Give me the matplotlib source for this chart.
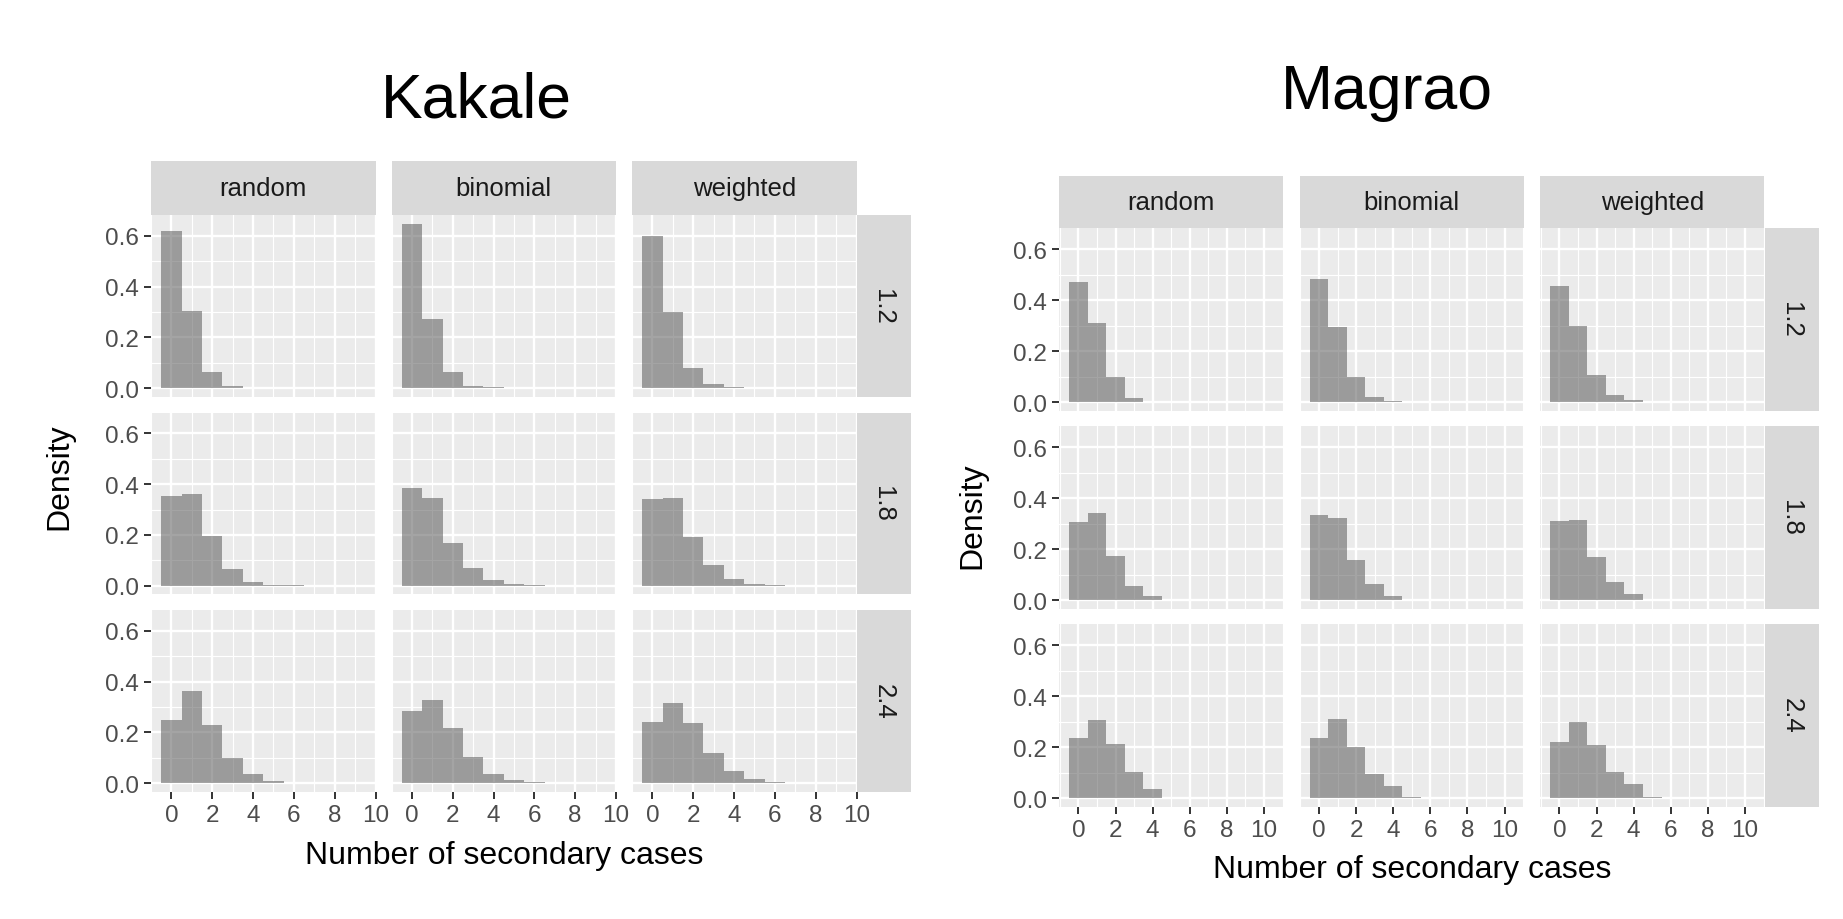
import matplotlib
matplotlib.use("Agg")
import matplotlib.pyplot as plt
import numpy as np

plt.rcParams["font.family"] = ["Liberation Sans", "DejaVu Sans"]

W, H = 1843, 920

models = ["random", "binomial", "weighted"]
r_labels = ["1.2", "1.8", "2.4"]
y_ticks = [0.0, 0.2, 0.4, 0.6]
x_ticks = [0, 2, 4, 6, 8, 10]
y_top = 0.65  # shared upper limit of the density axis

# density per number of secondary cases (0, 1, 2, ...)
kakale_12_random = [0.620, 0.304, 0.065, 0.007, 0.001, 0.0005, 0, 0, 0, 0]
kakale_12_binomial = [0.649, 0.273, 0.065, 0.009, 0.003, 0.001, 0, 0, 0, 0]
kakale_12_weighted = [0.600, 0.301, 0.078, 0.017, 0.003, 0.001, 0, 0, 0, 0]
kakale_18_random = [0.355, 0.363, 0.195, 0.067, 0.013, 0.003, 0.001, 0, 0, 0]
kakale_18_binomial = [0.384, 0.347, 0.169, 0.071, 0.021, 0.005, 0.002, 0, 0, 0]
kakale_18_weighted = [0.340, 0.347, 0.193, 0.083, 0.025, 0.007, 0.002, 0, 0, 0]
kakale_24_random = [0.248, 0.365, 0.230, 0.099, 0.036, 0.007, 0.0015, 0.0005, 0, 0]
kakale_24_binomial = [0.284, 0.328, 0.217, 0.103, 0.036, 0.012, 0.003, 0.001, 0, 0]
kakale_24_weighted = [0.240, 0.316, 0.236, 0.119, 0.049, 0.015, 0.005, 0.002, 0.0005, 0]

magrao_12_random = [0.470, 0.310, 0.099, 0.016, 0.0015, 0, 0, 0, 0, 0, 0]
magrao_12_binomial = [0.482, 0.294, 0.097, 0.021, 0.004, 0, 0, 0, 0, 0, 0]
magrao_12_weighted = [0.457, 0.298, 0.107, 0.030, 0.007, 0, 0, 0, 0, 0, 0]
magrao_18_random = [0.307, 0.342, 0.174, 0.054, 0.017, 0.001, 0, 0, 0, 0, 0]
magrao_18_binomial = [0.334, 0.321, 0.158, 0.062, 0.018, 0.002, 0, 0, 0, 0, 0]
magrao_18_weighted = [0.309, 0.314, 0.170, 0.073, 0.026, 0.002, 0, 0, 0, 0, 0]
magrao_24_random = [0.234, 0.308, 0.211, 0.102, 0.037, 0.001, 0, 0, 0, 0, 0]
magrao_24_binomial = [0.236, 0.312, 0.199, 0.094, 0.046, 0.004, 0.001, 0, 0, 0, 0]
magrao_24_weighted = [0.221, 0.297, 0.209, 0.104, 0.057, 0.004, 0.002, 0.001, 0, 0, 0]

kakale = [
    [kakale_12_random, kakale_12_binomial, kakale_12_weighted],
    [kakale_18_random, kakale_18_binomial, kakale_18_weighted],
    [kakale_24_random, kakale_24_binomial, kakale_24_weighted],
]
magrao = [
    [magrao_12_random, magrao_12_binomial, magrao_12_weighted],
    [magrao_18_random, magrao_18_binomial, magrao_18_weighted],
    [magrao_24_random, magrao_24_binomial, magrao_24_weighted],
]


def rect(x, y, w, h):
    return [x / W, 1 - (y + h) / H, w / W, h / H]


def draw_site(fig, title, panels, geom):
    n_bins = len(panels[0][0])
    bins = np.arange(n_bins)
    pad = 0.05 * n_bins
    xlim = (-0.5 - pad, n_bins - 0.5 + pad)
    ylim = (-0.05 * y_top, 1.05 * y_top)
    x_minor = [v for v in range(-1, n_bins + 2, 2) if xlim[0] <= v <= xlim[1]]
    y_minor = [0.1, 0.3, 0.5]

    pw, ph = geom["pw"], geom["ph"]
    for i, row in enumerate(panels):
        for j, vals in enumerate(row):
            x0, y0 = geom["cols"][j], geom["rows"][i]
            ax = fig.add_axes(rect(x0, y0, pw, ph))
            ax.set_facecolor("#EBEBEB")
            ax.bar(bins, vals, width=1.0, color="#595959", alpha=0.55,
                   linewidth=0, zorder=3)
            ax.set_xlim(*xlim)
            ax.set_ylim(*ylim)
            ax.set_xticks(x_ticks)
            ax.set_xticks(x_minor, minor=True)
            ax.set_yticks(y_ticks)
            ax.set_yticks(y_minor, minor=True)
            ax.set_yticklabels([f"{v:.1f}" for v in y_ticks])
            ax.set_axisbelow(True)
            ax.grid(which="major", color="white", linewidth=1.7)
            ax.grid(which="minor", color="white", linewidth=0.85)
            for s in ax.spines.values():
                s.set_visible(False)
            ax.tick_params(which="minor", length=0)
            ax.tick_params(which="major", length=5, width=1.4, color="#333333",
                           labelsize=17.5, labelcolor="#4D4D4D", pad=4)
            if j != 0:
                ax.tick_params(axis="y", length=0, labelleft=False)
            if i != len(panels) - 1:
                ax.tick_params(axis="x", length=0, labelbottom=False)

    # column strips on top
    for j, name in enumerate(models):
        sx = fig.add_axes(rect(geom["cols"][j], geom["strip_top"], pw,
                               geom["rows"][0] - geom["strip_top"]))
        sx.set_facecolor("#D9D9D9")
        sx.set_xticks([])
        sx.set_yticks([])
        for s in sx.spines.values():
            s.set_visible(False)
        sx.text(0.5, 0.5, name, ha="center", va="center", fontsize=18.5,
                color="#1A1A1A", transform=sx.transAxes)

    # row strips on the right
    right = geom["cols"][-1] + pw
    for i, name in enumerate(r_labels):
        sy = fig.add_axes(rect(right, geom["rows"][i], geom["strip_w"], ph))
        sy.set_facecolor("#D9D9D9")
        sy.set_xticks([])
        sy.set_yticks([])
        for s in sy.spines.values():
            s.set_visible(False)
        sy.text(0.5, 0.5, name, ha="center", va="center", fontsize=18.5,
                color="#1A1A1A", rotation=-90, transform=sy.transAxes)

    tx, ty = geom["title"]
    fig.text(tx / W, 1 - ty / H, title, ha="center", va="baseline", fontsize=45)
    lx, ly = geom["ylabel"]
    fig.text(lx / W, 1 - ly / H, "Density", ha="center", va="center",
             rotation=90, fontsize=23)
    bx, by = geom["xlabel"]
    fig.text(bx / W, 1 - by / H, "Number of secondary cases", ha="center",
             va="center", fontsize=23)


fig = plt.figure(figsize=(W / 100, H / 100), dpi=100)

kakale_geom = {
    "cols": [151, 391.5, 632], "rows": [216, 413.5, 611], "pw": 224.5, "ph": 181.5,
    "strip_top": 162, "strip_w": 54,
    "title": (476, 118), "ylabel": (59, 477), "xlabel": (504, 856),
}
magrao_geom = {
    "cols": [1059, 1299.5, 1540], "rows": [229, 427, 625], "pw": 224.5, "ph": 182.5,
    "strip_top": 177, "strip_w": 54,
    "title": (1387, 109), "ylabel": (972, 516), "xlabel": (1412, 870),
}

draw_site(fig, "Kakale", kakale, kakale_geom)
draw_site(fig, "Magrao", magrao, magrao_geom)

fig.savefig("out.png", dpi=100, facecolor="white")
